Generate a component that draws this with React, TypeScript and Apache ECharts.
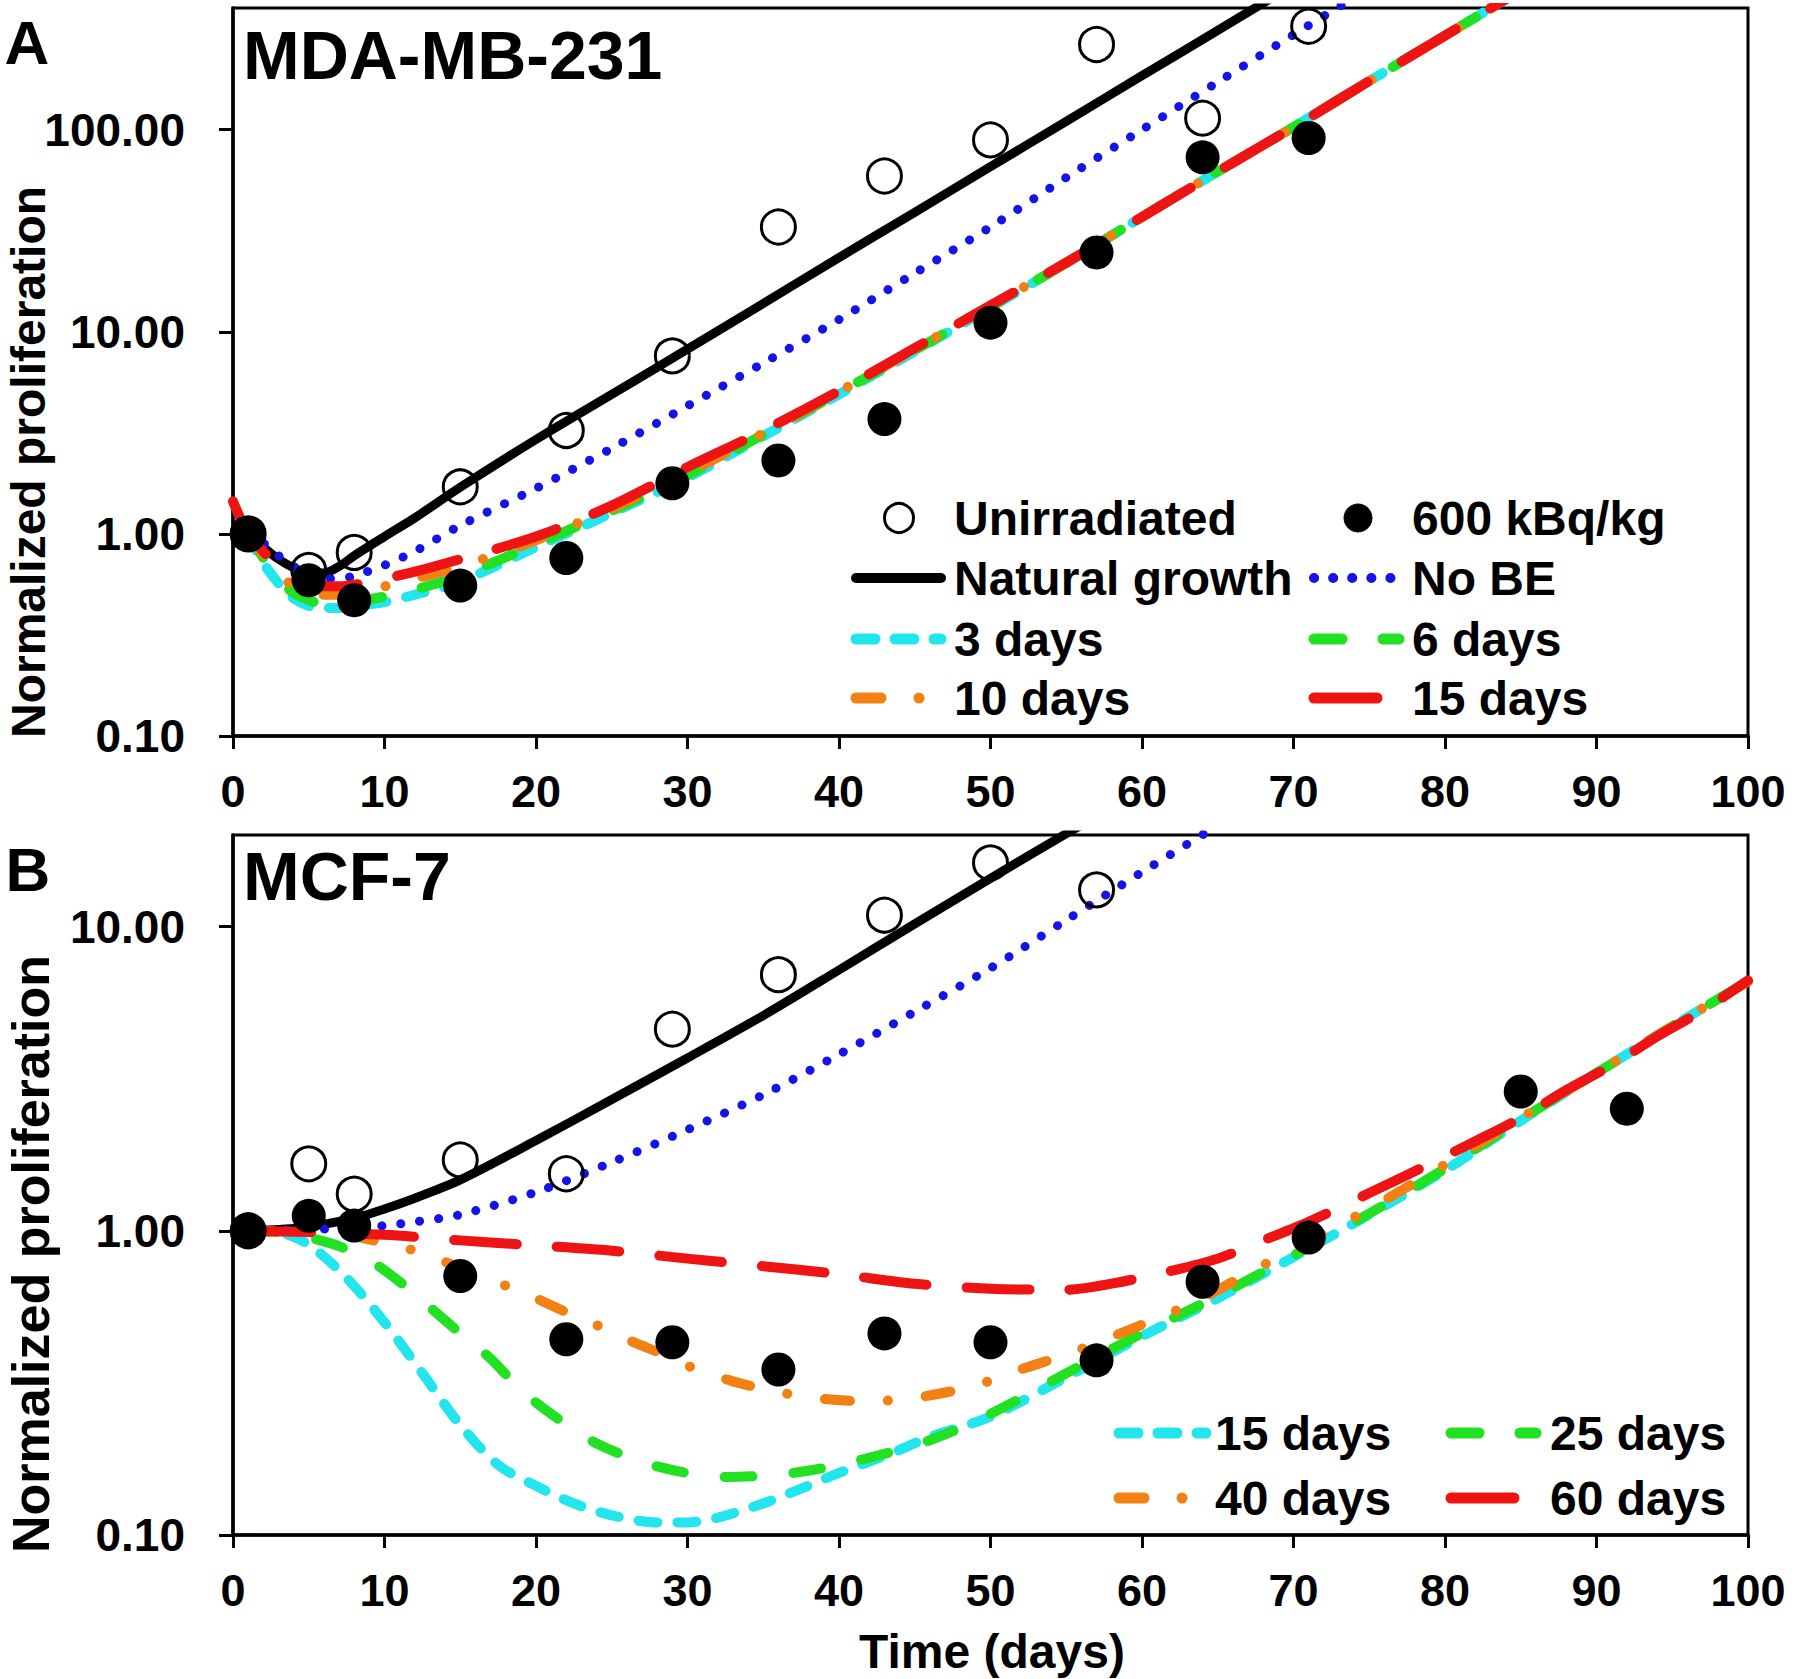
import React, { useEffect, useRef } from "react";
import * as echarts from "echarts";

type Pt = [number, number];

const FONT = "'Liberation Sans', Arial, Helvetica, sans-serif";

// ---------- axes ----------
const xMin = 0;
const xMax = 100;
const xInterval = 10;
const yMinA = 0.1;
const yMaxA = 400;
const yMinB = 0.1;
const yMaxB = 20;
const yTicksA = [0.1, 1, 10, 100];
const yTicksB = [0.1, 1, 10];

// ---------- Panel A: MDA-MB-231 observations ----------
const obsDaysA = [1, 5, 8, 15, 22, 29, 36, 43, 50, 57, 64, 71];
const unirradiatedA = [1.0, 0.66, 0.81, 1.71, 3.25, 7.6, 33, 59, 89, 264, 114, 325];
const irradiatedA = [1.0, 0.59, 0.47, 0.555, 0.76, 1.78, 2.31, 3.7, 11.1, 24.7, 73, 91];

// ---------- Panel A: model curves [day, value] ----------
const naturalGrowthA: Pt[] = [[1, 1.0], [2, 0.86], [3, 0.75], [4, 0.68], [5, 0.64], [6, 0.64], [7, 0.69], [8, 0.78], [10, 0.97], [12, 1.2], [15, 1.7], [20, 2.93], [25, 4.9], [30, 8.2], [35, 13.8], [40, 23.3], [45, 39], [50, 65.6], [55, 110], [60, 185], [65, 310], [70, 520]];
const noBEA: Pt[] = [[1, 1.0], [2, 0.9], [3, 0.78], [4, 0.69], [5, 0.63], [6, 0.6], [7, 0.6], [8, 0.62], [10, 0.7], [12, 0.82], [15, 1.1], [20, 1.68], [25, 2.65], [30, 4.3], [35, 7.0], [40, 11.5], [45, 19.5], [50, 33], [55, 58], [60, 100], [65, 172], [70, 295], [75, 500]];
const days3A: Pt[] = [[1, 1.0], [2, 0.72], [3, 0.57], [4, 0.48], [5, 0.44], [6, 0.43], [7, 0.43], [8, 0.44], [10, 0.46], [12, 0.5], [15, 0.58], [20, 0.86], [25, 1.27], [30, 1.9], [35, 3.05], [40, 4.9], [45, 8.0], [50, 13.2], [55, 21.8], [60, 37], [65, 62], [70, 103], [75, 174], [80, 292], [85, 490]];
const days6A: Pt[] = [[1, 1.0], [2, 0.76], [3, 0.6], [4, 0.51], [5, 0.47], [6, 0.45], [7, 0.45], [8, 0.46], [10, 0.49], [12, 0.53], [15, 0.62], [20, 0.89], [25, 1.3], [30, 1.95], [35, 3.1], [40, 5.0], [45, 8.1], [50, 13.3], [55, 21.9], [60, 37], [65, 62], [70, 103], [75, 174], [80, 292], [85, 490]];
const days10A: Pt[] = [[1, 1.0], [2, 0.79], [3, 0.64], [4, 0.55], [5, 0.51], [6, 0.5], [7, 0.5], [8, 0.51], [10, 0.55], [12, 0.6], [15, 0.69], [20, 0.93], [25, 1.34], [30, 2.0], [35, 3.15], [40, 5.05], [45, 8.2], [50, 13.4], [55, 22], [60, 37], [65, 62], [70, 103], [75, 174], [80, 292], [85, 490]];
const days15A: Pt[] = [[0, 1.45], [1, 1.0], [2, 0.82], [3, 0.68], [4, 0.6], [5, 0.56], [6, 0.55], [7, 0.55], [8, 0.56], [10, 0.6], [12, 0.65], [15, 0.75], [20, 0.97], [25, 1.38], [30, 2.14], [35, 3.24], [40, 5.1], [45, 8.3], [50, 13.5], [55, 22], [60, 37], [65, 62], [70, 103], [75, 174], [80, 292], [85, 490]];

// ---------- Panel B: MCF-7 observations ----------
const obsDaysUnirrB = [1, 5, 8, 15, 22, 29, 36, 43, 50, 57];
const unirradiatedB = [1.0, 1.66, 1.32, 1.71, 1.54, 4.6, 6.95, 10.9, 16.2, 13.2];
const obsDaysIrrB = [1, 5, 8, 15, 22, 29, 36, 43, 50, 57, 64, 71, 85, 92];
const irradiatedB = [1.0, 1.12, 1.04, 0.71, 0.44, 0.43, 0.35, 0.46, 0.43, 0.375, 0.68, 0.95, 2.87, 2.52];

// ---------- Panel B: model curves [day, value] ----------
const naturalGrowthB: Pt[] = [[1, 1.0], [3, 1.01], [5, 1.03], [8, 1.1], [10, 1.18], [12, 1.28], [15, 1.47], [20, 1.98], [25, 2.7], [30, 3.7], [35, 5.1], [40, 7.2], [45, 10.2], [50, 14.4], [55, 20.2], [58, 24.5]];
const noBEB: Pt[] = [[1, 1.0], [5, 1.01], [8, 1.02], [10, 1.04], [12, 1.07], [15, 1.13], [20, 1.34], [25, 1.68], [30, 2.15], [35, 2.8], [40, 3.8], [45, 5.25], [50, 7.3], [55, 10.5], [60, 15.1], [65, 21.5]];
const days15B: Pt[] = [[1, 1.0], [3, 0.99], [5, 0.9], [7.5, 0.7], [10, 0.5], [12.5, 0.34], [15, 0.23], [17.5, 0.17], [20, 0.145], [22.5, 0.127], [25, 0.116], [28, 0.11], [30, 0.11], [32, 0.114], [35, 0.127], [37.5, 0.142], [40, 0.16], [43.5, 0.186], [46, 0.21], [50, 0.245], [55, 0.33], [60, 0.45], [65, 0.6], [70, 0.82], [75, 1.13], [80, 1.58], [85, 2.3], [90, 3.3], [95, 4.7], [100, 6.6]];
const days25B: Pt[] = [[1, 1.0], [3, 0.99], [5, 0.95], [7, 0.89], [9, 0.8], [11, 0.68], [13, 0.56], [15, 0.46], [17, 0.38], [19, 0.3], [21, 0.25], [24, 0.2], [28, 0.168], [32.5, 0.155], [37, 0.16], [41.5, 0.177], [46, 0.205], [50, 0.25], [55, 0.34], [60, 0.46], [65, 0.61], [70, 0.83], [75, 1.14], [80, 1.6], [85, 2.32], [90, 3.3], [95, 4.7], [100, 6.6]];
const days40B: Pt[] = [[1, 1.0], [5, 0.99], [8, 0.96], [10, 0.91], [12, 0.86], [14, 0.79], [16, 0.72], [18, 0.66], [20, 0.6], [22, 0.54], [24, 0.49], [26, 0.44], [28, 0.4], [30, 0.36], [33, 0.32], [36, 0.295], [39, 0.28], [42, 0.275], [45.5, 0.285], [49, 0.31], [52, 0.35], [55.5, 0.4], [59.5, 0.48], [62, 0.54], [64, 0.6], [66, 0.68], [69, 0.82], [72, 0.98], [75, 1.18], [80, 1.65], [85, 2.35], [90, 3.3], [95, 4.7], [100, 6.6]];
const days60B: Pt[] = [[1, 1.0], [5, 0.99], [10, 0.97], [15, 0.93], [20, 0.895], [25, 0.86], [30, 0.81], [35, 0.765], [40, 0.72], [45, 0.67], [50, 0.645], [55, 0.64], [58, 0.67], [62, 0.74], [65, 0.81], [68, 0.93], [71, 1.07], [75, 1.33], [78, 1.57], [82, 1.97], [85, 2.35], [88, 2.9], [91, 3.5], [94, 4.35], [97, 5.3], [100, 6.65]];

// ---------- styles ----------
type LS = { color: string; width: number; dash: number[] | "solid" };
const ST: Record<string, LS> = {
  natural: { color: "#000000", width: 9, dash: "solid" },
  noBE: { color: "#1414e6", width: 9, dash: [0.1, 19] },
  cyan: { color: "#22e5ee", width: 10, dash: [19, 20] },
  green: { color: "#22e022", width: 10, dash: [28, 41] },
  orange: { color: "#f28012", width: 10, dash: [25, 38, 0.1, 38] },
  red: { color: "#ee1414", width: 10, dash: [63, 40] },
};

const GRIDS = [
  { left: 233, top: 8, width: 1515, height: 728 },
  { left: 233, top: 835, width: 1515, height: 700 },
];

function lineSeries(name: string, data: Pt[], st: LS, idx: number, z: number) {
  return {
    type: "line",
    name,
    xAxisIndex: idx,
    yAxisIndex: idx,
    data,
    symbol: "none",
    showSymbol: false,
    smooth: 0.3,
    clip: true,
    silent: true,
    z,
    lineStyle: { color: st.color, width: st.width, type: st.dash, cap: "round", join: "round" },
  };
}

function scatterSeries(name: string, days: number[], vals: number[], filled: boolean, idx: number) {
  return {
    type: "scatter",
    name,
    xAxisIndex: idx,
    yAxisIndex: idx,
    data: days.map((d, i) => [d, vals[i]]),
    symbol: "circle",
    symbolSize: 34,
    silent: true,
    z: filled ? 6 : 7,
    itemStyle: filled
      ? { color: "#000", borderWidth: 0, opacity: 1 }
      : { color: "rgba(0,0,0,0)", borderColor: "#000", borderWidth: 3, opacity: 1 },
  };
}

function xAxis(idx: number) {
  return {
    type: "value",
    gridIndex: idx,
    min: xMin,
    max: xMax,
    interval: xInterval,
    axisLine: { show: true, onZero: false, lineStyle: { color: "#000", width: 3.5 } },
    axisTick: { show: true, length: 13, lineStyle: { color: "#000", width: 3 } },
    axisLabel: { show: true, color: "#000", fontSize: 45, fontWeight: "bold", fontFamily: FONT, margin: 33 },
    splitLine: { show: false },
  };
}

function yAxis(idx: number, min: number, max: number, ticks: number[]) {
  return {
    type: "log",
    logBase: 10,
    gridIndex: idx,
    min,
    max,
    axisLine: { show: true, onZero: false, lineStyle: { color: "#000", width: 3.5 } },
    axisTick: { show: true, length: 14, customValues: ticks, lineStyle: { color: "#000", width: 3 } },
    axisLabel: {
      show: true,
      customValues: ticks,
      color: "#000",
      fontSize: 46,
      fontWeight: "bold",
      fontFamily: FONT,
      margin: 48,
      formatter: (v: number) => Number(v).toFixed(2),
    },
    minorTick: { show: false },
    splitLine: { show: false },
  };
}

function txt(text: string, x: number, y: number, size: number, align = "left", rotation = 0) {
  return {
    type: "text",
    x,
    y,
    rotation,
    silent: true,
    z: 20,
    style: {
      text,
      fill: "#000",
      fontSize: size,
      fontWeight: "bold",
      fontFamily: FONT,
      align,
      verticalAlign: "middle",
      textAlign: align,
      textVerticalAlign: "middle",
    },
  };
}

function swatch(st: LS, x1: number, x2: number, y: number) {
  return {
    type: "line",
    silent: true,
    z: 20,
    shape: { x1, y1: y, x2, y2: y },
    style: {
      stroke: st.color,
      lineWidth: st.width + 1,
      lineDash: st.dash === "solid" ? null : st.dash,
      lineCap: "round",
    },
  };
}

function dot(cx: number, cy: number, filled: boolean) {
  return {
    type: "circle",
    silent: true,
    z: 20,
    shape: { cx, cy, r: filled ? 14 : 14.5 },
    style: filled ? { fill: "#000", stroke: "#000", lineWidth: 1 } : { fill: "none", stroke: "#000", lineWidth: 3 },
  };
}

function buildOption() {
  // legend geometry (panel A)
  const aRows = [518, 578, 639, 698];
  const aC1 = { x1: 856, x2: 941, text: 954, mark: 899 };
  const aC2 = { x1: 1314, x2: 1399, text: 1412, mark: 1358 };
  // legend geometry (panel B)
  const bRows = [1433, 1498];
  const bC1 = { x1: 1119, x2: 1206, text: 1215 };
  const bC2 = { x1: 1451, x2: 1536, text: 1550 };

  const graphics: any[] = [
    txt("A", 27, 42, 62, "center"),
    txt("MDA-MB-231", 243, 55, 68),
    txt("B", 28, 869, 62, "center"),
    txt("MCF-7", 243, 876, 68),
    txt("Normalized proliferation", 28, 462, 48, "center", Math.PI / 2),
    txt("Normalized proliferation", 31, 1254, 52, "center", Math.PI / 2),
    txt("Time (days)", 992, 1651, 48, "center"),
    // panel A legend
    dot(aC1.mark, aRows[0], false),
    txt("Unirradiated", aC1.text, aRows[0], 48),
    dot(aC2.mark, aRows[0], true),
    txt("600 kBq/kg", aC2.text, aRows[0], 48),
    swatch(ST.natural, aC1.x1, aC1.x2, aRows[1]),
    txt("Natural growth", aC1.text, aRows[1], 48),
    swatch(ST.noBE, aC2.x1, aC2.x2, aRows[1]),
    txt("No BE", aC2.text, aRows[1], 48),
    swatch(ST.cyan, aC1.x1, aC1.x2, aRows[2]),
    txt("3 days", aC1.text, aRows[2], 48),
    swatch(ST.green, aC2.x1, aC2.x2, aRows[2]),
    txt("6 days", aC2.text, aRows[2], 48),
    swatch(ST.orange, aC1.x1, aC1.x2, aRows[3]),
    txt("10 days", aC1.text, aRows[3], 48),
    swatch(ST.red, aC2.x1, aC2.x2, aRows[3]),
    txt("15 days", aC2.text, aRows[3], 48),
    // panel B legend
    swatch(ST.cyan, bC1.x1, bC1.x2, bRows[0]),
    txt("15 days", bC1.text, bRows[0], 48),
    swatch(ST.green, bC2.x1, bC2.x2, bRows[0]),
    txt("25 days", bC2.text, bRows[0], 48),
    swatch(ST.orange, bC1.x1, bC1.x2, bRows[1]),
    txt("40 days", bC1.text, bRows[1], 48),
    swatch(ST.red, bC2.x1, bC2.x2, bRows[1]),
    txt("60 days", bC2.text, bRows[1], 48),
  ];

  return {
    animation: false,
    backgroundColor: "#ffffff",
    textStyle: { fontFamily: FONT },
    grid: GRIDS.map((g) => ({
      ...g,
      show: true,
      borderColor: "#000",
      borderWidth: 3,
      backgroundColor: "rgba(0,0,0,0)",
      containLabel: false,
      outerBoundsMode: "none",
    })),
    xAxis: [xAxis(0), xAxis(1)],
    yAxis: [yAxis(0, yMinA, yMaxA, yTicksA), yAxis(1, yMinB, yMaxB, yTicksB)],
    series: [
      lineSeries("Natural growth", naturalGrowthA, ST.natural, 0, 2),
      lineSeries("No BE", noBEA, ST.noBE, 0, 2),
      lineSeries("3 days", days3A, ST.cyan, 0, 3),
      lineSeries("6 days", days6A, ST.green, 0, 3),
      lineSeries("10 days", days10A, ST.orange, 0, 3),
      lineSeries("15 days", days15A, ST.red, 0, 4),
      scatterSeries("Unirradiated", obsDaysA, unirradiatedA, false, 0),
      scatterSeries("600 kBq/kg", obsDaysA, irradiatedA, true, 0),
      lineSeries("Natural growth B", naturalGrowthB, ST.natural, 1, 2),
      lineSeries("No BE B", noBEB, ST.noBE, 1, 2),
      lineSeries("15 days B", days15B, ST.cyan, 1, 3),
      lineSeries("25 days B", days25B, ST.green, 1, 3),
      lineSeries("40 days B", days40B, ST.orange, 1, 3),
      lineSeries("60 days B", days60B, ST.red, 1, 4),
      scatterSeries("Unirradiated B", obsDaysUnirrB, unirradiatedB, false, 1),
      scatterSeries("600 kBq/kg B", obsDaysIrrB, irradiatedB, true, 1),
    ],
    graphic: graphics,
  };
}

export default function App() {
  const ref = useRef<HTMLDivElement>(null);
  useEffect(() => {
    if (!ref.current) return;
    const chart = echarts.init(ref.current, null, { renderer: "svg", width: 1800, height: 1679 });
    chart.setOption(buildOption() as any);
    return () => {
      chart.dispose();
    };
  }, []);
  return (
    <div
      ref={ref}
      style={{ position: "absolute", left: 0, top: 0, width: 1800, height: 1679, background: "#fff" }}
    />
  );
}
